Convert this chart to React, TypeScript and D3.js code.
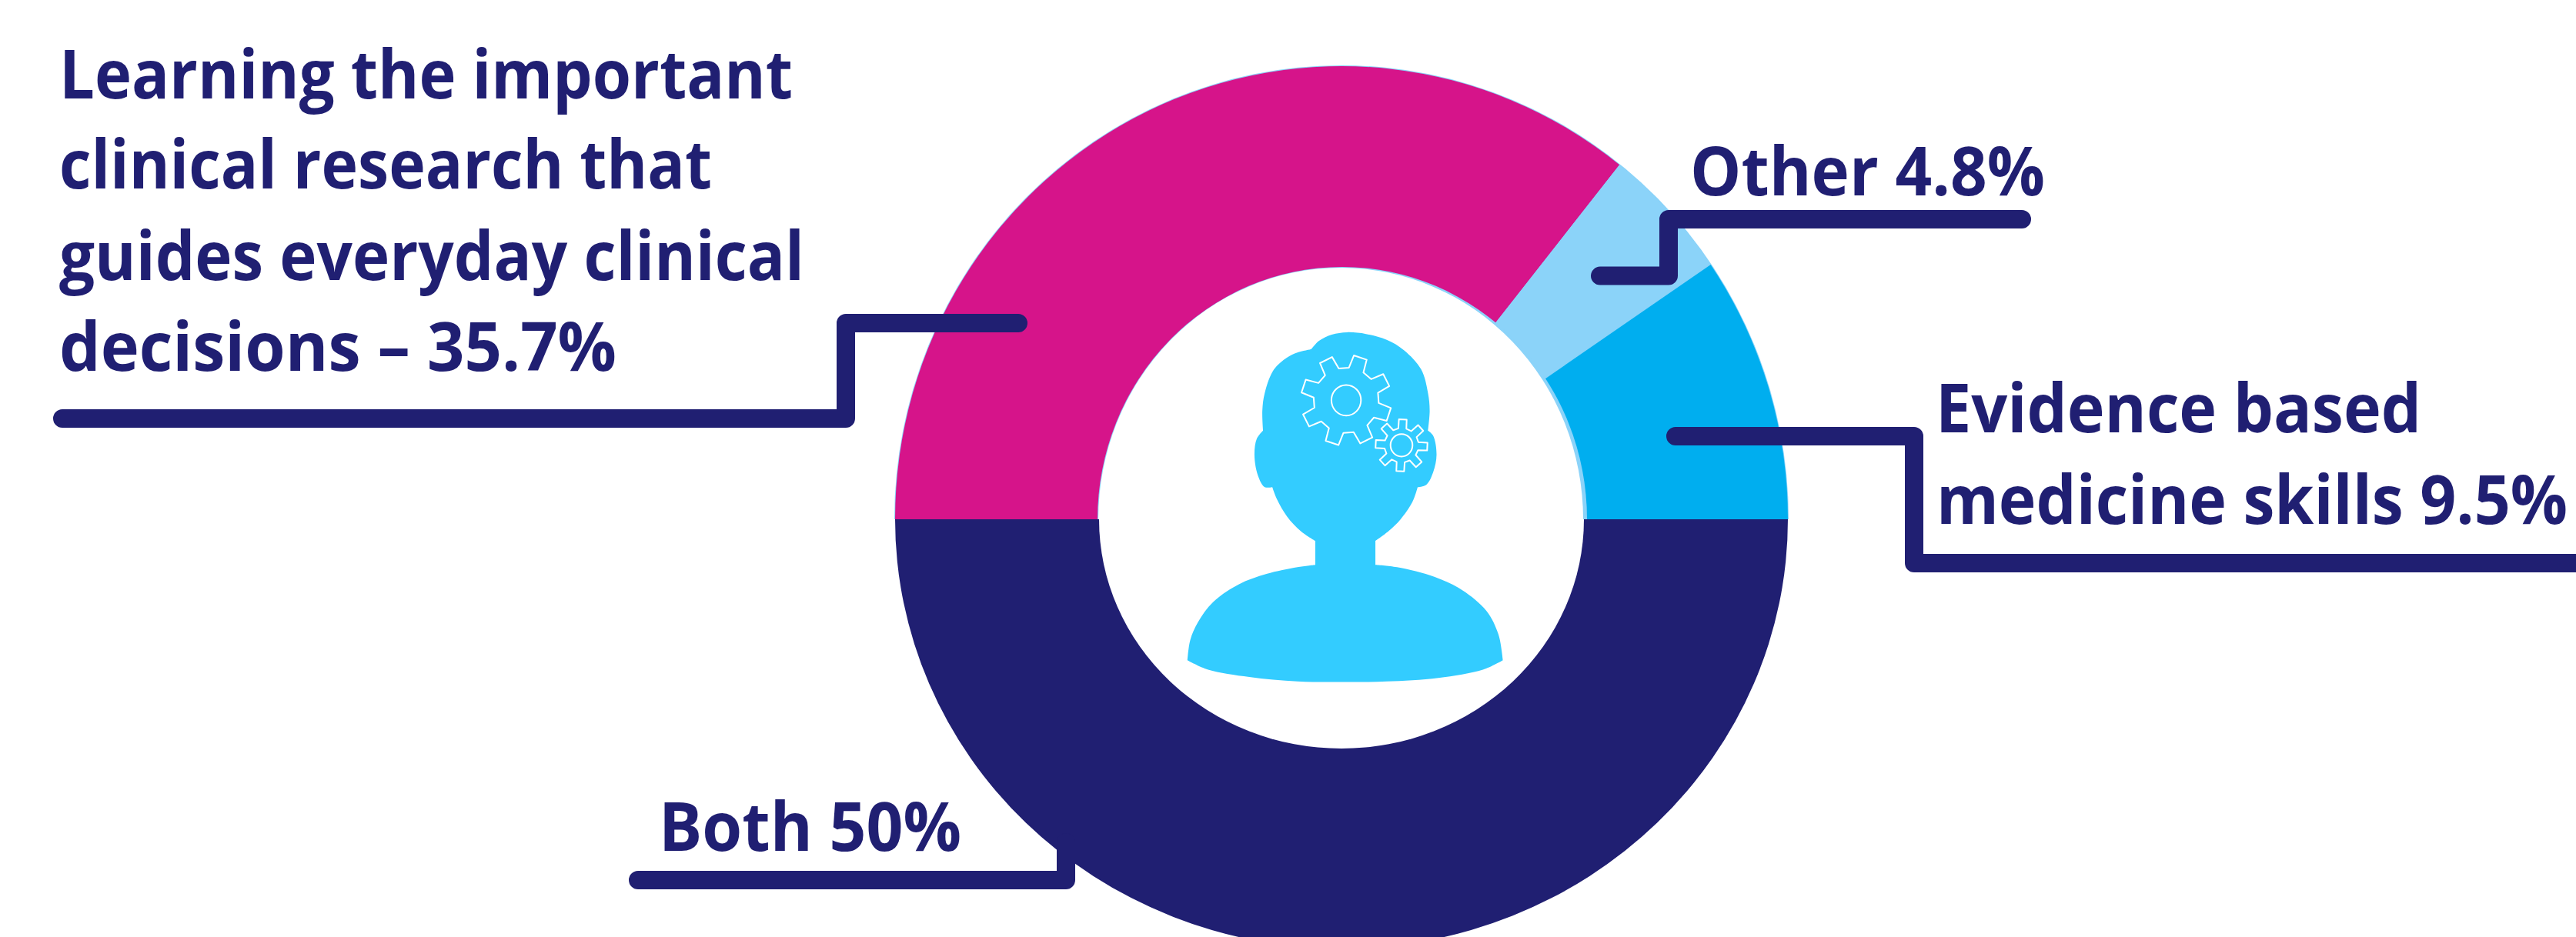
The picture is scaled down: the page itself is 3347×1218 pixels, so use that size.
import React from "react";
import * as d3 from "d3";

// Share of respondents per answer, clockwise from the left of the ring
const answers = ["Learning", "Other", "Evidence", "Both"];
const shares = [35.7, 4.8, 9.5, 50];
const sliceColors = ["#D6148A", "#8BD3F9", "#00AEEF", "#201F72"];

const INK = "#201F72";
const RIM = "#8BD3F9";
const HEAD = "#33CCFF";

const W = 3347;
const H = 1218;
const cx = 1743;
const cy = 675;
const outerRx = 580;
const upperOuterRy = 589;
const lowerOuterRy = 558;
const holeRx = 315;
const upperHoleRy = 327;
const lowerHoleRy = 298;

const pie = d3
  .pie<number>()
  .sort(null)
  .startAngle(-Math.PI / 2)
  .endAngle((3 * Math.PI) / 2);
const slices = pie(shares);
const sliceArc = d3.arc<d3.PieArcDatum<number>>().innerRadius(250).outerRadius(outerRx);

// Point inside a slice: angle measured clockwise from 12 o'clock, radius as a share of the outer edge
const pointInSlice = (i: number, frac: number): [number, number] => {
  const a = (slices[i].startAngle + slices[i].endAngle) / 2;
  return [cx + frac * outerRx * Math.sin(a), cy - frac * upperOuterRy * Math.cos(a)];
};

const halfDisc = (rx: number, ry: number, upper: boolean, dx = 0) => {
  const a = d3.arc()({
    innerRadius: 0,
    outerRadius: rx,
    startAngle: upper ? -Math.PI / 2 : Math.PI / 2,
    endAngle: upper ? Math.PI / 2 : (3 * Math.PI) / 2,
  }) as string;
  return { d: a, transform: `translate(${cx + dx},${cy}) scale(1,${ry / rx})` };
};

// Callout text: [text, left edge, right edge, baseline]
const learningLines: [string, number, number, number][] = [
  ["Learning the important", 77, 1030, 128],
  ["clinical research that", 77, 925, 245],
  ["guides everyday clinical", 77, 1045, 364],
  [`decisions \u2013 ${shares[0]}%`, 77, 801, 482],
];
const otherLines: [string, number, number, number][] = [[`Other ${shares[1]}%`, 2196, 2657, 254]];
const evidenceLines: [string, number, number, number][] = [
  ["Evidence based", 2515, 3146, 562],
  [`medicine skills ${shares[2]}%`, 2516, 3336, 681],
];
const bothLines: [string, number, number, number][] = [[`Both ${shares[3]}%`, 856, 1249, 1106]];

const otherTip = pointInSlice(1, 0.79);
const leaders: [number, number][][] = [
  [[1323, 420], [1099, 420], [1099, 544], [81, 544]],
  [otherTip, [2168, otherTip[1]], [2168, 285], [2627, 285]],
  [[2177, 567], [2487, 567], [2487, 732], [3360, 732]],
  [[829, 1144], [1385, 1144], [1385, 1095]],
];
const leaderPath = d3.line();

// Head silhouette, in the icon's own drawing units; repeated points keep a corner sharp
const headOutline: [number, number][] = [
  [540, 548], [540, 548], [538, 480], [545, 420], [572, 340], [610, 300], [640, 283], [680, 272], [680, 272],
  [703, 243], [740, 222], [785, 214], [840, 220], [900, 240], [950, 275], [1000, 340], [1020, 420], [1025, 480],
  [1020, 548], [1020, 548], [1035, 565], [1045, 630], [1035, 690], [1015, 732], [990, 740], [990, 740],
  [975, 790], [940, 850], [905, 890], [867, 923], [867, 923], [867, 1004], [867, 1004], [930, 1012],
  [1040, 1045], [1120, 1090], [1190, 1160], [1225, 1240], [1238, 1328], [1238, 1328], [1180, 1360],
  [1050, 1388], [900, 1400], [780, 1402], [640, 1400], [500, 1385], [380, 1360], [320, 1328], [320, 1328],
  [328, 1260], [350, 1200], [395, 1130], [470, 1070], [550, 1035], [640, 1012], [692, 1004], [692, 1004],
  [692, 923], [692, 923], [650, 890], [610, 840], [580, 780], [567, 740], [567, 740],
  [545, 740], [525, 700], [515, 630], [522, 575],
];
const iconTransform = `translate(1400,350) scale(${1 / 2.24},${1 / 2.613})`;

// Toothed wheel outline with n teeth
const gearPath = (x: number, y: number, rOut: number, rIn: number, n: number, phase: number) => {
  const pts: [number, number][] = [];
  const step = (2 * Math.PI) / n;
  for (let i = 0; i < n; i++) {
    const a = phase + i * step;
    [
      [-0.3, rIn],
      [-0.19, rOut],
      [0.19, rOut],
      [0.3, rIn],
    ].forEach(([f, r]) => {
      pts.push([x + r * Math.cos(a + f * step), y + 1.17 * r * Math.sin(a + f * step)]);
    });
  }
  return (d3.line() as any)(pts) + "Z";
};
const gears = [
  { x: 782, y: 445, rOut: 132, rIn: 95, teeth: 8, phase: 0.32, hubRx: 43, hubRy: 52 },
  { x: 943, y: 598, rOut: 76, rIn: 50, teeth: 8, phase: 0.05, hubRx: 32, hubRy: 38 },
];

// Type is set small and stretched upward, which keeps the narrow, tall letterforms
const FONT_SIZE = 70;
const STRETCH_Y = 88 / 70;

const Callout = ({ lines }: { lines: [string, number, number, number][] }) => (
  <>
    {lines.map(([t, x0, x1, y]) => (
      <text
        key={t}
        transform={`translate(${x0},${y}) scale(1,${STRETCH_Y})`}
        textLength={x1 - x0}
        lengthAdjust="spacingAndGlyphs"
        fontFamily="'Open Sans', sans-serif"
        fontWeight={700}
        fontSize={FONT_SIZE}
        fill={INK}
      >
        {t}
      </text>
    ))}
  </>
);

export default function App() {
  const upperHoleRim = halfDisc(holeRx + 3, upperHoleRy + 1, true, 1);
  const upperHole = halfDisc(holeRx, upperHoleRy, true, -1);
  const lowerHole = halfDisc(holeRx, lowerHoleRy, false);
  const upperBack = halfDisc(outerRx + 1, upperOuterRy + 1, true);

  return (
    <svg
      width={W}
      height={H}
      viewBox={`0 0 ${W} ${H}`}
      style={{ position: "absolute", left: 0, top: 0, display: "block", background: "#fff" }}
    >
      <path {...upperBack} fill={RIM} />
      {slices.map((s, i) => {
        const upper = s.startAngle < Math.PI / 2 - 1e-6;
        const ry = upper ? upperOuterRy : lowerOuterRy;
        return (
          <path
            key={answers[i]}
            d={sliceArc(s) as string}
            fill={sliceColors[i]}
            transform={`translate(${cx},${cy}) scale(1,${ry / outerRx})`}
          />
        );
      })}
      <path {...upperHoleRim} fill={RIM} />
      <path {...upperHole} fill="#fff" />
      <path {...lowerHole} fill="#fff" />

      <g transform={iconTransform}>
        <path d={(d3.line().curve(d3.curveCatmullRomClosed.alpha(0.5)) as any)(headOutline)} fill={HEAD} />
        {gears.map((g) => (
          <g key={g.x} fill="none" stroke="#fff" strokeWidth={2} strokeLinejoin="round">
            <path d={gearPath(g.x, g.y, g.rOut, g.rIn, g.teeth, g.phase)} vectorEffect="non-scaling-stroke" />
            <ellipse cx={g.x} cy={g.y} rx={g.hubRx} ry={g.hubRy} vectorEffect="non-scaling-stroke" />
          </g>
        ))}
      </g>

      {leaders.map((pts, i) => (
        <path
          key={i}
          d={leaderPath(pts) as string}
          fill="none"
          stroke={INK}
          strokeWidth={24}
          strokeLinecap="round"
          strokeLinejoin="round"
        />
      ))}

      <Callout lines={learningLines} />
      <Callout lines={otherLines} />
      <Callout lines={evidenceLines} />
      <Callout lines={bothLines} />
    </svg>
  );
}
